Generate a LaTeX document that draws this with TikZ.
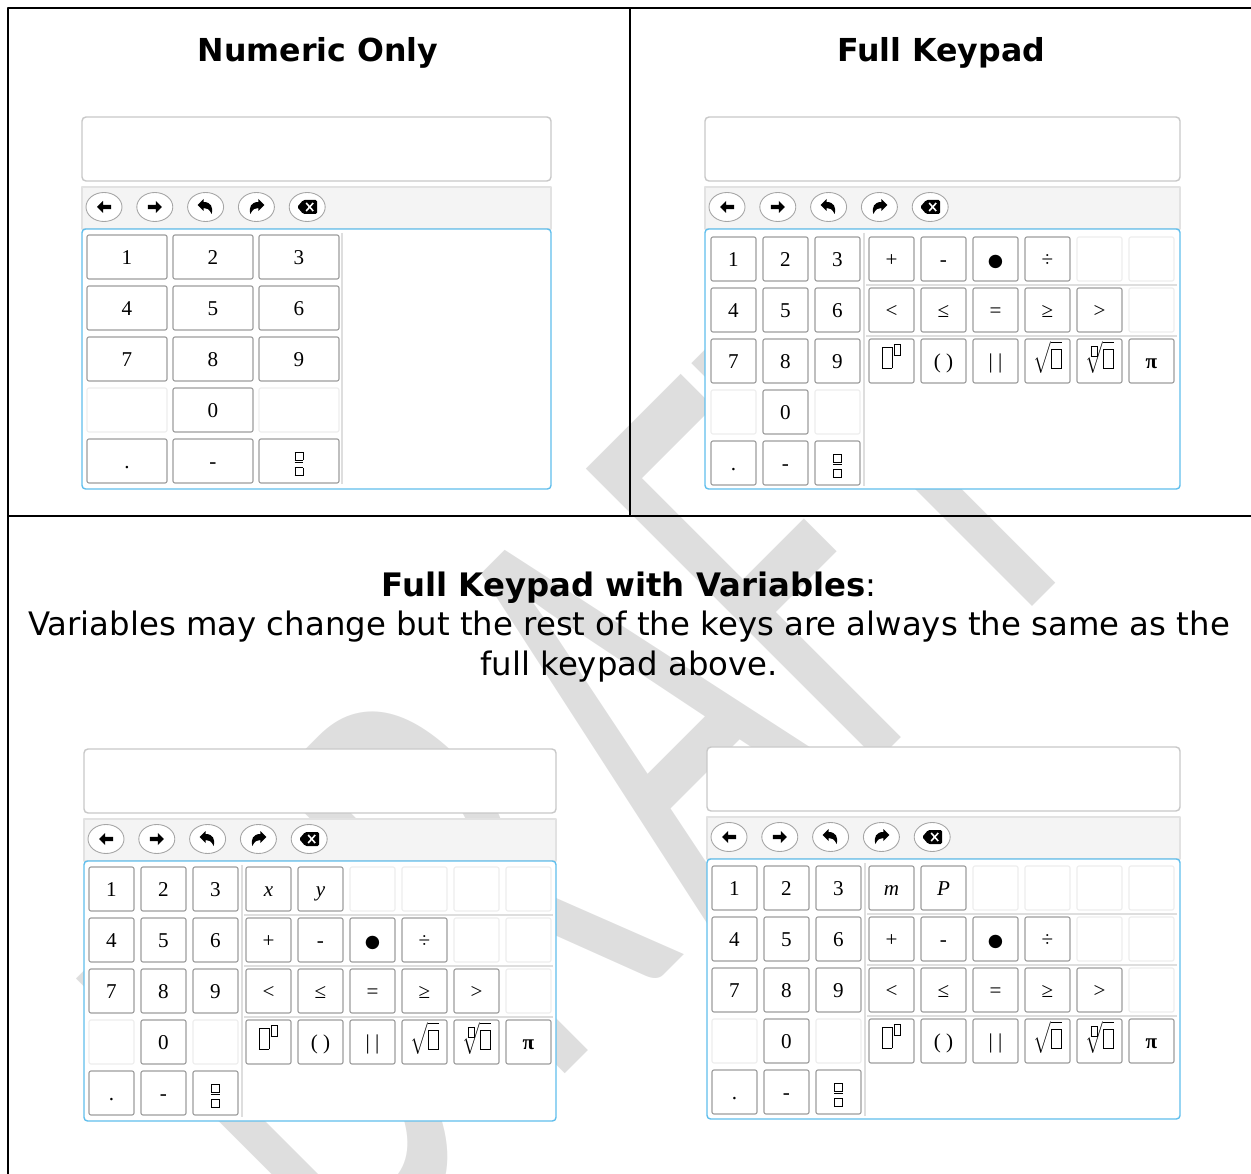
\documentclass[tikz,border=0pt]{standalone}
\usepackage{fontspec}
\setmainfont{Liberation Serif}
\newfontfamily\verd{DejaVu Sans}
\newfontfamily\markfont{Carlito}
\usetikzlibrary{shapes.geometric}

\definecolor{padblue}{RGB}{96,190,236}
\definecolor{keyline}{RGB}{158,158,158}
\definecolor{blankline}{RGB}{238,238,238}
\definecolor{barfill}{RGB}{244,244,244}
\definecolor{barline}{RGB}{226,226,226}
\definecolor{boxline}{RGB}{200,200,200}
\definecolor{sepgray}{RGB}{222,222,222}
\definecolor{markgray}{RGB}{222,222,222}

\def\px{0.2mm}

% empty placeholder box used on the keys
\newcommand\hole[2]{{\setlength\fboxsep{0pt}\setlength\fboxrule{0.5pt}\fbox{\rule{#1}{0pt}\rule{0pt}{#2}}}}
\newcommand\powKey{\hole{5pt}{11.5pt}\kern0.8pt\raisebox{7.5pt}{\hole{3.2pt}{5.5pt}}}
\newcommand\sqrtKey{$\sqrt{\hole{5pt}{10.5pt}}$}
\newcommand\rootKey{$\sqrt[\hole{2.8pt}{5pt}]{\hole{5pt}{10.5pt}}$}
\newcommand\fracKey{$\frac{\hole{4pt}{4pt}}{\hole{4pt}{4pt}}$}
\newcommand\dotKey{{\verd\fontsize{10}{10}\selectfont ●}}

\tikzset{
  display/.style={draw=boxline, line width=0.8pt, rounded corners=0.8mm, fill=white, minimum height=64*\px},
  toolbar/.style={draw=barline, line width=0.6pt, fill=barfill, minimum height=42*\px},
  panel/.style={draw=padblue, line width=0.8pt, rounded corners=0.7mm, fill=white, minimum height=260*\px},
  btn/.style={ellipse, draw=gray!70, line width=0.5pt, fill=white, minimum width=36*\px, minimum height=29*\px, inner sep=0pt},
  keycap/.style={rectangle, line width=0.65pt, rounded corners=0.4mm, fill=white, minimum height=44*\px,
    inner sep=0pt, text height=8pt, text depth=0pt, font=\fontsize{12}{14}\selectfont},
  sepline/.style={draw=sepgray, line width=0.6pt},
  frameline/.style={line width=1.4pt},
  title/.style={font=\verd\bfseries\fontsize{18}{22}\selectfont},
  wm/.style={text=markgray, rotate=45, anchor=base west, inner sep=0pt, font=\markfont\fontsize{366}{366}\selectfont},
}

% one row of keys: name, left x, top y, pitch, key width, label/border list
\newcommand\keyrow[6]{%
  \foreach \lab/\bc [count=\i] in {#6}
    \node[keycap, draw=\bc, minimum width=#5*\px] (#1-\i) at ({#2+#5/2+(\i-1)*#4},{#3+22}) {\lab};
}

% digits block on the left of every pad
\newcommand\numblock[5]{%
  \keyrow{#1-n1}{#2}{#3}{#4}{#5}{1/keyline,2/keyline,3/keyline}
  \keyrow{#1-n2}{#2}{#3+51}{#4}{#5}{4/keyline,5/keyline,6/keyline}
  \keyrow{#1-n3}{#2}{#3+102}{#4}{#5}{7/keyline,8/keyline,9/keyline}
  \keyrow{#1-n4}{#2}{#3+153}{#4}{#5}{{}/blankline,0/keyline,{}/blankline}
  \keyrow{#1-n5}{#2}{#3+204}{#4}{#5}{{.}/keyline,-/keyline,\fracKey/keyline}
}

% input box, tool bar with its buttons, key panel: name, left x, top y, width
\newcommand\padframe[4]{%
  \node[display, minimum width=#4*\px] (#1-disp) at ({#2+#4/2},{#3+32}) {};
  \node[toolbar, minimum width=#4*\px] (#1-bar) at ({#2+#4/2},{#3+91}) {};
  \node[panel, minimum width=#4*\px] (#1-pad) at ({#2+#4/2},{#3+242}) {};
  \foreach \ic [count=\j from 0] in {back,fwd,undo,redo,erase}
    \node[btn] (#1-\ic) at ({#2+22+50.8*\j},{#3+90}) {};
  \fill[shift={(#1-back)}] (-7,0) -- (-1,-6) -- (-1,-2.2) -- (7,-2.2) -- (7,2.2) -- (-1,2.2) -- (-1,6) -- cycle;
  \fill[shift={(#1-fwd)}, xscale=-1] (-7,0) -- (-1,-6) -- (-1,-2.2) -- (7,-2.2) -- (7,2.2) -- (-1,2.2) -- (-1,6) -- cycle;
  \fill[shift={(#1-undo)}] (-8,-2) -- (-2,-8) -- (-2,-5) .. controls (5,-5) and (8,0) .. (6,7)
    .. controls (4,2) and (1,1) .. (-2,1) -- (-2,4) -- cycle;
  \fill[shift={(#1-redo)}, xscale=-1] (-8,-2) -- (-2,-8) -- (-2,-5) .. controls (5,-5) and (8,0) .. (6,7)
    .. controls (4,2) and (1,1) .. (-2,1) -- (-2,4) -- cycle;
  \fill[shift={(#1-erase)}, rounded corners=0.3mm] (-10,0) -- (-4,-7) -- (10,-7) -- (10,7) -- (-4,7) -- cycle;
  \draw[shift={(#1-erase)}, white, line width=0.9pt] (-1,-4) -- (6,4) (-1,4) -- (6,-4);
}

\begin{document}
\begin{tikzpicture}[x=\px, y=-\px, line join=round]
  \clip (0,0) rectangle (1251,1174);
  % watermark letters, under everything else
  \node[wm] (mark-d) at (350,1289) {\scalebox{0.574}[1]{D}};
  \node[wm] (mark-r) at (546,1093) {\scalebox{0.574}[1]{R}};
  \node[wm] (mark-aft) at (709,930) {\scalebox{0.574}[1]{AFT}};

  % table rules
  \draw[frameline] (8,1174) -- (8,8) -- (1251,8);
  \draw[frameline] (630,8) -- (630,516);
  \draw[frameline] (8,516) -- (1251,516);

  \node[title] (head-num) at (318,53) {Numeric Only};
  \node[title] (head-full) at (941,53) {Full Keypad};
  \node[font=\verd\fontsize{18.4}{22.6}\selectfont, align=center] (head-var) at (629,627)
    {\textbf{Full Keypad with Variables}:\\Variables may change but the rest of the keys are always the same as the\\full keypad above.};

  % numeric only
  \padframe{num}{82}{117}{469}
  \draw[sepline] (342,233) -- (342,484);
  \numblock{num}{87}{235}{86}{80}

  % full keypad
  \padframe{full}{705}{117}{475}
  \draw[sepline] (864,233) -- (864,486) (866,285) -- (1177,285) (866,336) -- (1177,336);
  \numblock{full}{711}{237}{52}{45}
  \keyrow{full-a}{869}{237}{52}{45}{+/keyline,-/keyline,\dotKey/keyline,÷/keyline,{}/blankline,{}/blankline}
  \keyrow{full-b}{869}{288}{52}{45}{</keyline,≤/keyline,=/keyline,≥/keyline,>/keyline,{}/blankline}
  \keyrow{full-c}{869}{339}{52}{45}{\powKey/keyline,{( )}/keyline,{| |}/keyline,\sqrtKey/keyline,\rootKey/keyline,\textbf{π}/keyline}

  % full keypad with x and y
  \padframe{varxy}{84}{749}{472}
  \draw[sepline] (242,865) -- (242,1117) (244,915) -- (553,915) (244,966) -- (553,966) (244,1017) -- (553,1017);
  \numblock{varxy}{89}{867}{52}{45}
  \keyrow{varxy-a}{246}{867}{52}{45}{\textit{x}/keyline,\textit{y}/keyline,{}/blankline,{}/blankline,{}/blankline,{}/blankline}
  \keyrow{varxy-b}{246}{918}{52}{45}{+/keyline,-/keyline,\dotKey/keyline,÷/keyline,{}/blankline,{}/blankline}
  \keyrow{varxy-c}{246}{969}{52}{45}{</keyline,≤/keyline,=/keyline,≥/keyline,>/keyline,{}/blankline}
  \keyrow{varxy-d}{246}{1020}{52}{45}{\powKey/keyline,{( )}/keyline,{| |}/keyline,\sqrtKey/keyline,\rootKey/keyline,\textbf{π}/keyline}

  % full keypad with m and P
  \padframe{varmp}{707}{747}{473}
  \draw[sepline] (865,863) -- (865,1116) (867,914) -- (1177,914) (867,965) -- (1177,965) (867,1016) -- (1177,1016);
  \numblock{varmp}{712}{866}{52}{45}
  \keyrow{varmp-a}{869}{866}{52}{45}{\textit{m}/keyline,\textit{P}/keyline,{}/blankline,{}/blankline,{}/blankline,{}/blankline}
  \keyrow{varmp-b}{869}{917}{52}{45}{+/keyline,-/keyline,\dotKey/keyline,÷/keyline,{}/blankline,{}/blankline}
  \keyrow{varmp-c}{869}{968}{52}{45}{</keyline,≤/keyline,=/keyline,≥/keyline,>/keyline,{}/blankline}
  \keyrow{varmp-d}{869}{1019}{52}{45}{\powKey/keyline,{( )}/keyline,{| |}/keyline,\sqrtKey/keyline,\rootKey/keyline,\textbf{π}/keyline}
\end{tikzpicture}
\end{document}
